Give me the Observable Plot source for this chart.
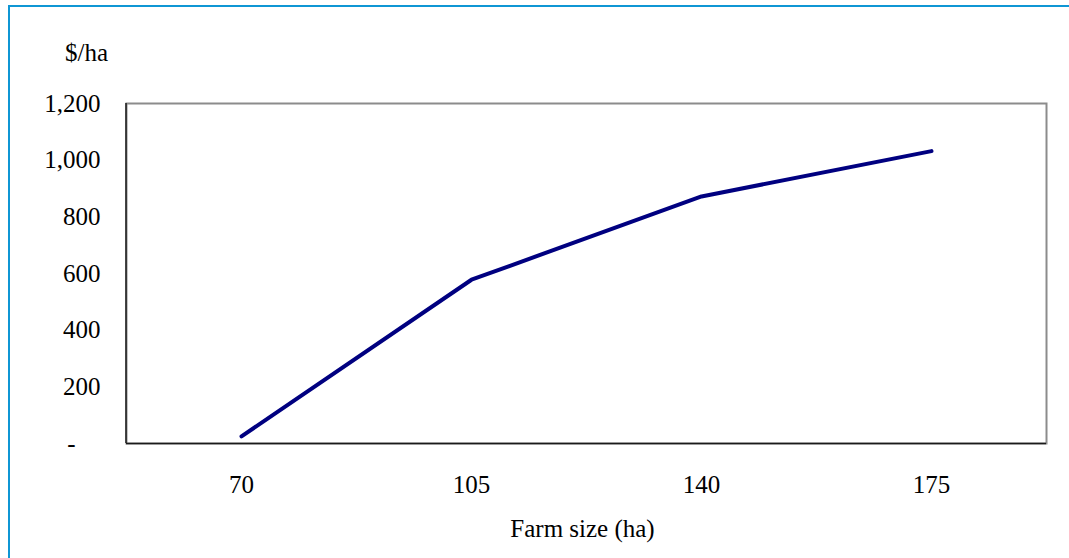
<!DOCTYPE html>
<html>
<head>
<meta charset="utf-8">
<script src="https://cdn.jsdelivr.net/npm/d3@7"></script>
<script src="https://cdn.jsdelivr.net/npm/@observablehq/plot@0.6"></script>
<style>
  html, body { margin: 0; padding: 0; background: #fff; }
  #wrap { position: relative; width: 1069px; height: 558px; overflow: hidden; }
  #edge {
    position: absolute; left: 8px; top: 5px; width: 1200px; height: 700px;
    border-left: 2px solid #0f96d4; border-top: 2px solid #0f96d4;
    pointer-events: none;
  }
</style>
</head>
<body>
<div id="wrap"><div id="chart"></div><div id="edge"></div></div>
<script>
// Farm size categories (ha) and the value per hectare ($/ha)
const farmSizes = ["70", "105", "140", "175"];
const valuePerHa = [25, 578, 872, 1032];
const yTicks = [0, 200, 400, 600, 800, 1000, 1200];

const yLabel = "$/ha";
const xLabel = "Farm size (ha)";

const rows = farmSizes.map((s, i) => ({size: s, value: valuePerHa[i]}));

// Left edge of the plot area drawn in a dark stroke (frame itself is grey)
const leftEdge = (index, scales, values, dims) => {
  return d3.create("svg:line")
    .attr("x1", dims.marginLeft).attr("x2", dims.marginLeft)
    .attr("y1", dims.marginTop).attr("y2", dims.height - dims.marginBottom)
    .attr("stroke", "#1a1a1a").attr("stroke-width", 1.5)
    .node();
};

const chart = Plot.plot({
  width: 1069,
  height: 558,
  marginLeft: 126,
  marginRight: 23,
  marginTop: 103,
  marginBottom: 115,
  style: {fontFamily: "'Liberation Serif', 'Times New Roman', serif", fontSize: "25px", color: "#000", background: "transparent"},
  x: {type: "point", domain: farmSizes, padding: 0.5, tickSize: 0, tickPadding: 32, label: null},
  y: {domain: [0, 1200], ticks: yTicks, tickSize: 0, tickPadding: 26, label: null,
      tickFormat: d => d === 0 ? "-\u00a0\u00a0\u00a0\u00a0" : d3.format(",")(d)},
  marks: [
    Plot.frame({stroke: "#8c8c8c", strokeWidth: 2}),
    Plot.ruleY([0], {stroke: "#1a1a1a", strokeWidth: 1.5}),
    leftEdge,
    Plot.line(rows, {x: "size", y: "value", stroke: "#000080", strokeWidth: 4}),
    Plot.text([yLabel], {text: d => d, frameAnchor: "top-left", dx: -40, dy: -51, textAnchor: "middle", lineAnchor: "middle", fontSize: 25}),
    Plot.text([xLabel], {text: d => d, frameAnchor: "bottom", dx: -4, dy: 85, textAnchor: "middle", lineAnchor: "middle", fontSize: 25})
  ]
});
document.getElementById("chart").appendChild(chart);
</script>
</body>
</html>
